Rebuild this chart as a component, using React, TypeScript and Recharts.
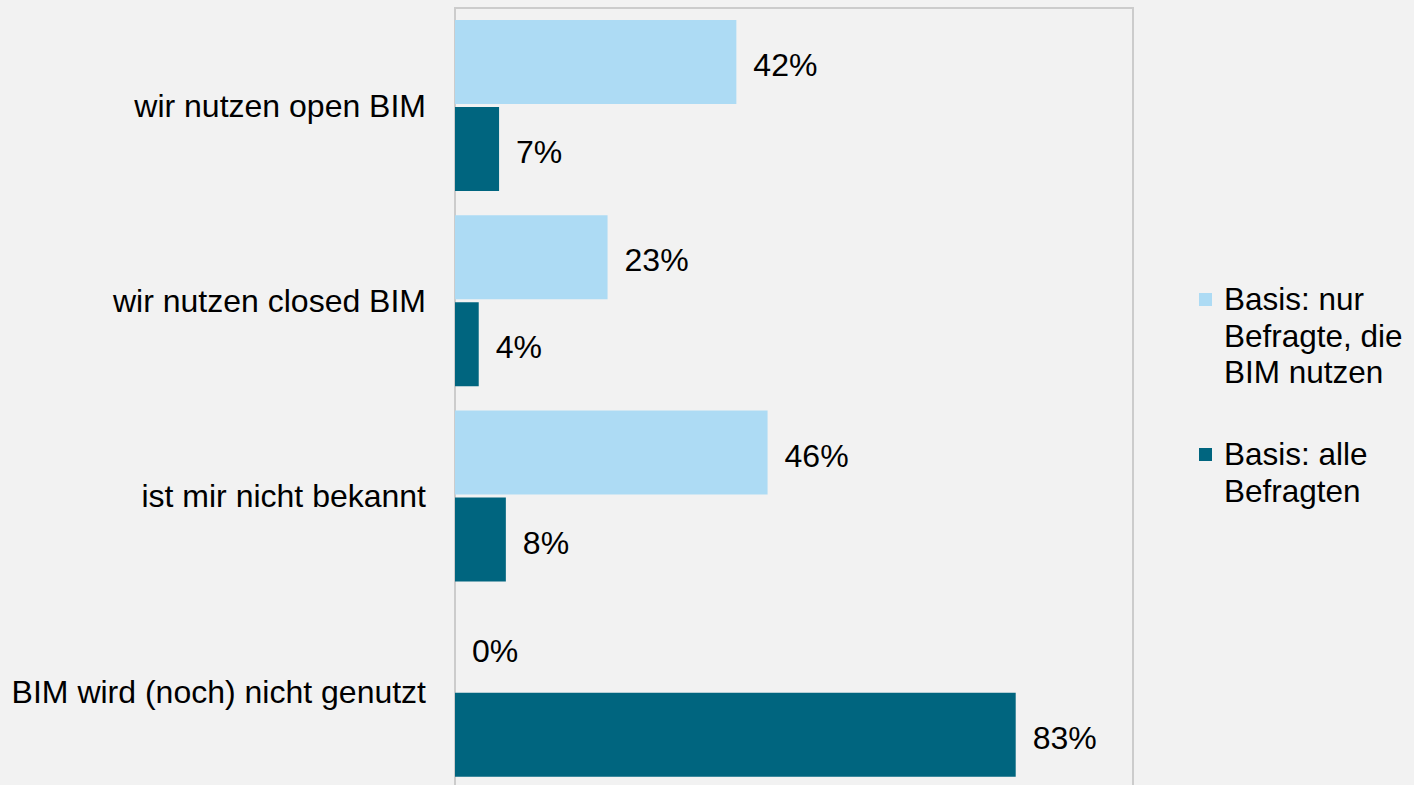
import React from 'react';
import { BarChart, Bar, XAxis, YAxis, ReferenceArea } from 'recharts';

const categories = [
  'wir nutzen open BIM',
  'wir nutzen closed BIM',
  'ist mir nicht bekannt',
  'BIM wird (noch) nicht genutzt',
];
const seriesNames = ['Basis: nur Befragte, die BIM nutzen', 'Basis: alle Befragten'];
const legendLines = [
  ['Basis: nur', 'Befragte, die', 'BIM nutzen'],
  ['Basis: alle', 'Befragten'],
];
const usersOnly = [41.5, 22.5, 46.1, 0];
const allRespondents = [6.5, 3.5, 7.5, 82.7];
const colors = ['#addbf4', '#00657f'];

const data = categories.map((name, i) => ({
  name,
  users: usersOnly[i],
  all: allRespondents[i],
}));

const FONT = '"Liberation Sans", Arial, sans-serif';

const ValueLabel = (props: any) => {
  const { x, y, width, height, value } = props;
  if (value === undefined || value === null) return null;
  const xx = Number(x) + Math.max(0, Number(width || 0)) + 17;
  const yy = Number(y) + Number(height) / 2 + 3;
  return (
    <text
      x={xx}
      y={yy}
      dominantBaseline="central"
      textAnchor="start"
      fill="#000"
      fontSize={32}
      fontFamily={FONT}
    >
      {`${Math.round(Number(value))}%`}
    </text>
  );
};

const zeroMin = (value: any) => (Number(value) === 0 ? 0.01 : 0);

export default function App() {
  return (
    <div
      style={{
        position: 'fixed',
        left: 0,
        top: 0,
        width: 1414,
        height: 785,
        overflow: 'hidden',
        background: '#f2f2f2',
        fontFamily: FONT,
      }}
    >
      <BarChart
        width={1414}
        height={800}
        data={data}
        layout="vertical"
        margin={{ top: 8, right: 281, bottom: 11, left: 0 }}
        barSize={84}
        barGap={3}
      >
        <XAxis type="number" domain={[0, 100]} hide />
        <YAxis
          type="category"
          dataKey="name"
          width={455}
          axisLine={false}
          tickLine={false}
          tickSize={0}
          tickMargin={29}
          tick={{ fill: '#000', fontSize: 32, fontFamily: FONT }}
          interval={0}
        />
        <ReferenceArea
          x1={0}
          x2={100}
          fill="none"
          stroke="#cccccc"
          strokeWidth={2}
          ifOverflow="visible"
        />
        <Bar
          dataKey="users"
          name={seriesNames[0]}
          fill={colors[0]}
          isAnimationActive={false}
          minPointSize={zeroMin}
          label={ValueLabel}
        />
        <Bar
          dataKey="all"
          name={seriesNames[1]}
          fill={colors[1]}
          isAnimationActive={false}
          minPointSize={zeroMin}
          label={ValueLabel}
        />
      </BarChart>
      {legendLines.map((lines, i) => (
        <div
          key={i}
          style={{
            position: 'absolute',
            left: 1199,
            top: i === 0 ? 281 : 436,
            display: 'flex',
            alignItems: 'flex-start',
            fontSize: 31.5,
            lineHeight: '36.5px',
            color: '#000',
          }}
        >
          <div
            style={{
              width: 13,
              height: 13,
              background: colors[i],
              marginTop: 12,
              marginRight: 12,
              flexShrink: 0,
            }}
          />
          <div>
            {lines.map((l, j) => (
              <div key={j} style={{ whiteSpace: 'nowrap' }}>
                {l}
              </div>
            ))}
          </div>
        </div>
      ))}
    </div>
  );
}
